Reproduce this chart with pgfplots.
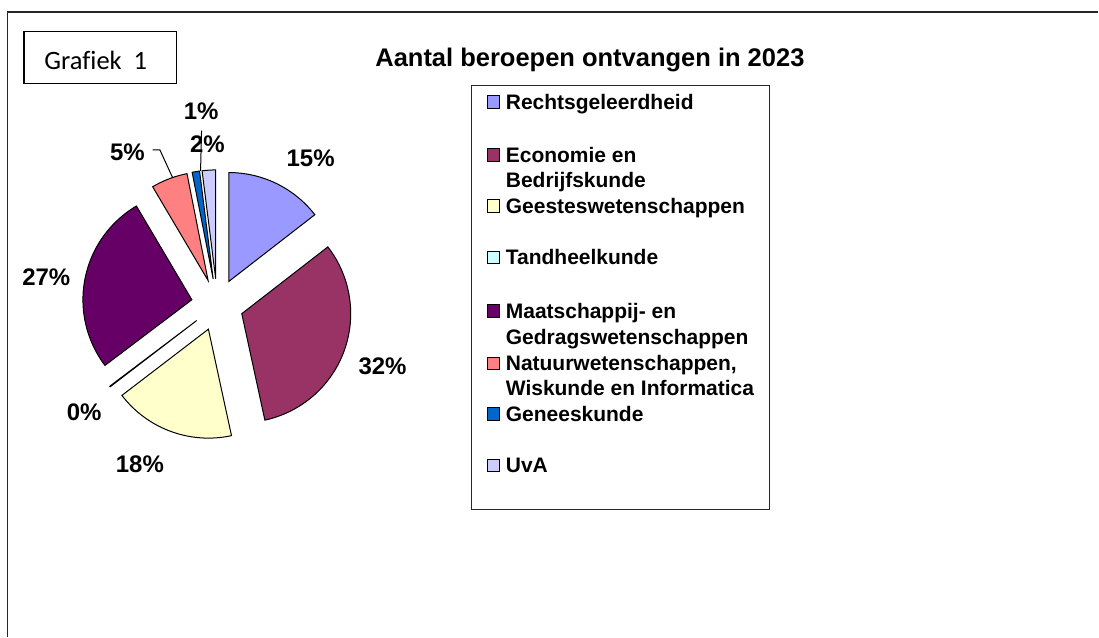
\documentclass[border=0pt]{standalone}
\usepackage{fontspec}
\setmainfont{Liberation Sans}
\newfontfamily\calibri{Carlito}
\usepackage{pgfplots}
\pgfplotsset{compat=1.18}

\definecolor{cRechts}{HTML}{9999FF}
\definecolor{cEcon}{HTML}{993366}
\definecolor{cGeest}{HTML}{FFFFCC}
\definecolor{cTand}{HTML}{CCFFFF}
\definecolor{cMaat}{HTML}{660066}
\definecolor{cNat}{HTML}{FF8080}
\definecolor{cGen}{HTML}{0066CC}
\definecolor{cUvA}{HTML}{CCCCFF}

\def\cx{217.5}
\def\cy{305}
\def\rr{109}
\def\ex{26}

% #1 = cumulative share before this slice (%), #2 = share (%), #3 = colour
\newcommand{\slice}[3]{%
  \addplot[fill=#3, draw=black, line width=1pt, line join=miter,
    domain={90-3.6*(#1+#2)}:{90-3.6*(#1)}, samples=90]
  ({\cx+\ex*cos(90-3.6*(#1+0.5*#2))+\rr*cos(x)},
   {\cy-\ex*sin(90-3.6*(#1+0.5*#2))-\rr*sin(x)})
  -- ({\cx+\ex*cos(90-3.6*(#1+0.5*#2))},{\cy-\ex*sin(90-3.6*(#1+0.5*#2))}) -- cycle;
}

\begin{document}
\begin{tikzpicture}
\begin{axis}[scale only axis, width=1099pt, height=637pt,
  xmin=0, xmax=1099, ymin=0, ymax=637, y dir=reverse,
  hide axis, clip=false]
\path (axis cs:0,0) rectangle (axis cs:1099,637);
% outer frame
\draw[line width=1.5pt, black!85] (axis cs:7.5,637) -- (axis cs:7.5,12) -- (axis cs:1099,12);
% Grafiek 1 box
\draw[line width=1.3pt] (axis cs:24,31.7) rectangle (axis cs:176.7,83.3);
\node[anchor=base, inner sep=0, font=\calibri\fontsize{26.5}{30}\selectfont] at (axis cs:95.8,69.3) {Graf\kern0pt iek\hspace{0.45em}1};
% title
\node[anchor=base, inner sep=0, font=\fontsize{25.5}{30}\selectfont\bfseries] at (axis cs:590.3,66.7) {Aantal beroepen ontvangen in 2023};

% pie slices (shares in %)
\slice{0}{14.5}{cRechts}
\slice{14.5}{32.1}{cEcon}
\slice{46.6}{18.0}{cGeest}
\slice{64.6}{0.1}{cTand}
\slice{64.7}{26.8}{cMaat}
\slice{91.5}{5.4}{cNat}
\slice{96.9}{1.1}{cGen}
\slice{98.0}{2.0}{cUvA}

% leader lines
\draw[line width=1pt] (axis cs:152.7,150) -- (axis cs:160,150) -- (axis cs:172.7,177.7);
\draw[line width=1pt] (axis cs:201.7,130.7) -- (axis cs:200.7,171);

% pie labels
\begin{scope}[every node/.style={anchor=base, inner sep=0, font=\fontsize{24}{28}\selectfont\bfseries}]
\node at (axis cs:310.8,166.7) {15\%};
\node at (axis cs:382.8,375) {32\%};
\node at (axis cs:140,473.3) {18\%};
\node at (axis cs:84.2,420.7) {0\%};
\node at (axis cs:46.3,285.3) {27\%};
\node at (axis cs:127.5,160.3) {5\%};
\node at (axis cs:207.5,152.3) {2\%};
\node at (axis cs:201.3,120) {1\%};
\end{scope}

% legend
\draw[line width=1pt, black!85] (axis cs:471.7,86) rectangle (axis cs:770,510);
\begin{scope}[every node/.style={anchor=base west, inner sep=0, font=\fontsize{21}{25}\selectfont\bfseries}]
\draw[fill=cRechts, line width=1pt] (axis cs:487.7,95.8) rectangle (axis cs:500.2,108.3);
\node at (axis cs:506,109.3) {Rechtsgeleerdheid};
\draw[fill=cEcon, line width=1pt] (axis cs:487.7,148.8) rectangle (axis cs:500.2,161.3);
\node at (axis cs:506,162.3) {Economie en};
\node at (axis cs:506,187.3) {Bedrijfskunde};
\draw[fill=cGeest, line width=1pt] (axis cs:487.7,199.8) rectangle (axis cs:500.2,212.3);
\node at (axis cs:506,213.3) {Geesteswetenschappen};
\draw[fill=cTand, line width=1pt] (axis cs:487.7,251.5) rectangle (axis cs:500.2,264);
\node at (axis cs:506,265) {Tandheelkunde};
\draw[fill=cMaat, line width=1pt] (axis cs:487.7,304.8) rectangle (axis cs:500.2,317.3);
\node at (axis cs:506,318.3) {Maatschappij- en};
\node at (axis cs:506,344.3) {Gedragswetenschappen};
\draw[fill=cNat, line width=1pt] (axis cs:487.7,357.5) rectangle (axis cs:500.2,370);
\node at (axis cs:506,371) {Natuurwetenschappen,};
\node at (axis cs:506,396) {Wiskunde en Informatica};
\draw[fill=cGen, line width=1pt] (axis cs:487.7,408.2) rectangle (axis cs:500.2,420.7);
\node at (axis cs:506,421.7) {Geneeskunde};
\draw[fill=cUvA, line width=1pt] (axis cs:487.7,459.8) rectangle (axis cs:500.2,472.3);
\node at (axis cs:506,473.3) {UvA};
\end{scope}
\end{axis}
\end{tikzpicture}
\end{document}
